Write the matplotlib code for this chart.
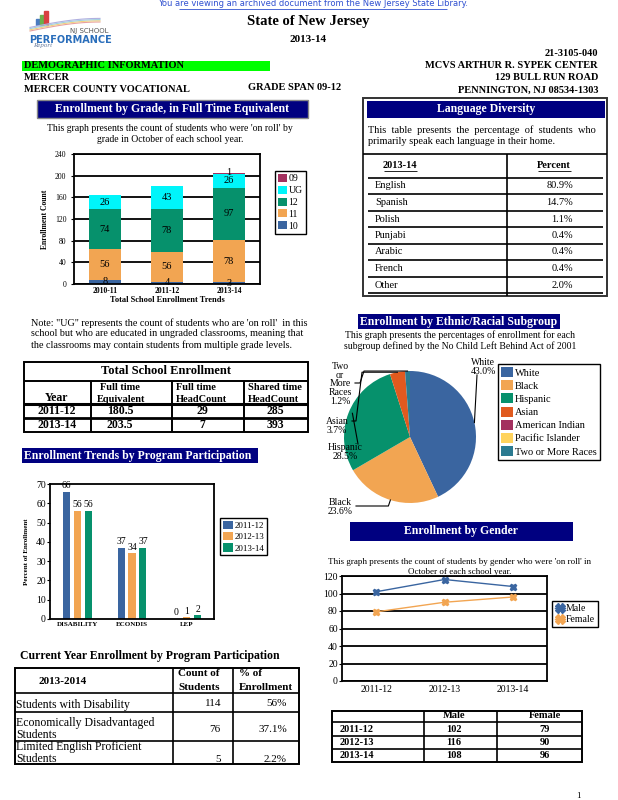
import numpy as np
import matplotlib
matplotlib.use("Agg")
import matplotlib.pyplot as plt
from matplotlib.patches import Rectangle

plt.rcParams['font.family'] = ['Liberation Serif', 'DejaVu Serif']

W, H = 618, 800

# ---- data ----
grade_years = ['2010-11', '2011-12', '2013-14']
grade_10 = [8, 4, 3]
grade_11 = [56, 56, 78]
grade_12 = [74, 78, 97]
grade_ug = [26, 43, 26]
grade_09 = [0, 0, 1]

lang_names = ['English', 'Spanish', 'Polish', 'Punjabi', 'Arabic', 'French', 'Other']
lang_pct = ['80.9%', '14.7%', '1.1%', '0.4%', '0.4%', '0.4%', '2.0%']

total_years = ['2011-12', '2013-14']
total_fte = ['180.5', '203.5']
total_ft_head = ['29', '7']
total_shared = ['285', '393']

prog_groups = ['DISABILITY', 'ECONDIS', 'LEP']
prog_years = ['2011-12', '2012-13', '2013-14']
prog_1112 = [66, 37, 0]
prog_1213 = [56, 34, 1]
prog_1314 = [56, 37, 2]

eth_names = ['White', 'Black', 'Hispanic', 'Asian', 'American Indian',
             'Pacific Islander', 'Two or More Races']
eth_pct = [43.0, 23.6, 28.5, 3.7, 0.0, 0.0, 1.2]

gender_years = ['2011-12', '2012-13', '2013-14']
male = [102, 116, 108]
female = [79, 90, 96]

cur_programs = ['Students with Disability', 'Economically Disadvantaged\nStudents',
                'Limited English Proficient\nStudents']
cur_counts = ['114', '76', '5']
cur_pct = ['56%', '37.1%', '2.2%']

BLUE = '#3A65A0'
ORANGE = '#F2A552'
GREEN = '#06916C'
CYAN = '#00F5FA'
MAROON = '#A3305F'
RED = '#E05A1E'
YELLOW = '#FFD35C'
TEAL = '#2B7A90'
NAVY = '#000080'

fig = plt.figure(figsize=(W / 100, H / 100), dpi=100)
fig.patch.set_facecolor('white')

page = fig.add_axes([0, 0, 1, 1])
page.set_xlim(0, W)
page.set_ylim(H, 0)
page.axis('off')
page.set_zorder(10)
page.patch.set_visible(False)


def box(x0, y0, x1, y1, fc='none', ec='black', lw=1.0):
    page.add_patch(Rectangle((x0, y0), x1 - x0, y1 - y0, facecolor=fc,
                             edgecolor=ec, linewidth=lw))


def txt(x, y, s, size=8, ha='left', va='center', bold=False, color='black', **kw):
    page.text(x, y, s, fontsize=size, ha=ha, va=va, color=color,
              fontweight='bold' if bold else 'normal', **kw)


def hl(y, x0, x1, lw=1.0, color='black'):
    page.plot([x0, x1], [y, y], color=color, lw=lw, solid_capstyle='butt')


def vl(x, y0, y1, lw=1.0, color='black'):
    page.plot([x, x], [y0, y1], color=color, lw=lw, solid_capstyle='butt')


def add_ax(x0, y0, x1, y1):
    return fig.add_axes([x0 / W, 1 - y1 / H, (x1 - x0) / W, (y1 - y0) / H])


def legend(handles, labels, x, y, size=7, **kw):
    opts = dict(frameon=True, fancybox=False, framealpha=1, edgecolor='black',
                borderpad=0.3, labelspacing=0.25, handletextpad=0.2, borderaxespad=0)
    opts.update(kw)
    lg = fig.legend(handles, labels, loc='upper left',
                    bbox_to_anchor=(x / W, 1 - y / H), fontsize=size, **opts)
    lg.get_frame().set_linewidth(1.0)
    return lg


# ---- header ----
txt(313, 4, 'You are viewing an archived document from the New Jersey State Library.',
    size=6, ha='center', color='#3050D0', family='DejaVu Sans')
hl(9, 179, 447, lw=0.6, color='#3050D0')

# logo
for i, c in enumerate(['#4A7AC0', '#6AB04A', '#D84040']):
    page.add_patch(Rectangle((36 + i * 4, 25 - (6 + i * 4)), 4, 6 + i * 4, color=c))
xs = np.linspace(30, 100, 30)
for k, c in enumerate(['#E8A0A0', '#F0D080', '#A0D0E0', '#B0B0E0']):
    page.plot(xs, 31 - k * 1.2 - 9 * np.sin((xs - 30) / 70 * np.pi / 2), color=c, lw=0.8)
txt(70, 31, 'NJ SCHOOL', size=5, color='#555555', family='DejaVu Sans')
txt(29, 40, 'PERFORMANCE', size=7, bold=True, color='#2A6EBB', family='DejaVu Sans')
txt(33, 46, 'Report', size=5, color='#6A7EA0', style='italic')

txt(308, 22, 'State of New Jersey', size=10.5, ha='center', bold=True)
txt(308, 40, '2013-14', size=8, ha='center', bold=True)
txt(598, 54, '21-3105-040', size=7.5, ha='right', bold=True)
box(22, 61, 270, 71, fc='#00FF00', ec='none')
txt(24, 66, 'DEMOGRAPHIC INFORMATION', size=7.5, bold=True)
txt(598, 66, 'MCVS ARTHUR R. SYPEK CENTER', size=7.5, ha='right', bold=True)
txt(24, 78, 'MERCER', size=7.5, bold=True)
txt(598, 78, '129 BULL RUN ROAD', size=7.5, ha='right', bold=True)
txt(24, 90, 'MERCER COUNTY VOCATIONAL', size=7.5, bold=True)
txt(248, 88, 'GRADE SPAN 09-12', size=7.5, bold=True)
txt(598, 90, 'PENNINGTON, NJ 08534-1303', size=7.5, ha='right', bold=True)

# ---- enrollment by grade ----
box(37, 100, 308, 118, fc=NAVY, ec='#888888')
txt(172, 109, 'Enrollment by Grade, in Full Time Equivalent', size=8.5, ha='center',
    bold=True, color='white')
txt(170, 128, "This graph presents the count of students who were 'on roll' by", size=7,
    ha='center')
txt(170, 139, 'grade in October of each school year.', size=7, ha='center')

ax = add_ax(74, 154, 260, 284)
x = np.arange(len(grade_years))
bottom = np.zeros(len(x))
handles = []
for vals, col, name in [(grade_10, BLUE, '10'), (grade_11, ORANGE, '11'),
                        (grade_12, GREEN, '12'), (grade_ug, CYAN, 'UG'),
                        (grade_09, MAROON, '09')]:
    bars = ax.bar(x, vals, 0.52, bottom=bottom, color=col, zorder=2, label=name)
    for xi, v, b in zip(x, vals, bottom):
        if v > 0:
            yl = b + v / 2 if v > 2 else b + v + 1.5
            ax.text(xi, yl, str(v), ha='center', va='center', fontsize=7.5, zorder=3)
    bottom = bottom + np.array(vals)
    handles.append(bars)
ax.set_ylim(0, 240)
ax.set_xlim(-0.5, 2.5)
ax.set_yticks(range(0, 241, 40))
ax.yaxis.grid(True, color='black', lw=1.3, zorder=1)
ax.set_axisbelow(True)
ax.set_xticks(x)
ax.set_xticklabels(grade_years, fontsize=5.5, fontweight='bold')
ax.tick_params(axis='y', labelsize=5.5, length=2, width=0.8)
ax.tick_params(axis='x', length=0, pad=2)
for s in ax.spines.values():
    s.set_linewidth(1.3)
ax.set_ylabel('Enrollment Count', fontsize=5.5, fontweight='bold', labelpad=4)
txt(167, 300, 'Total School Enrollment Trends', size=6, ha='center', bold=True)
legend(handles[::-1], ['10', '11', '12', 'UG', '09'][::-1], 275, 171, size=7,
       handlelength=0.9, handleheight=0.9)

# note
txt(31, 323, 'Note: "UG" represents the count of students who are \'on roll\'  in this',
    size=7.3)
txt(31, 334, 'school but who are educated in ungraded classrooms, meaning that', size=7.3)
txt(31, 345, 'the classrooms may contain students from multiple grade levels.', size=7.3)

# total school enrollment table
box(24, 362, 308, 432, lw=1.4)
hl(381, 24, 308, lw=1.4)
hl(404, 24, 308, lw=2.2)
hl(418, 24, 308, lw=2.0)
for xv in [91, 172, 244]:
    vl(xv, 381, 432, lw=1.4)
txt(166, 371, 'Total School Enrollment', size=9, ha='center', bold=True)
txt(57, 398, 'Year', size=8.5, ha='center', bold=True)
txt(100, 388, 'Full time', size=7.5, bold=True)
txt(97, 400, 'Equivalent', size=7.5, bold=True)
txt(176, 388, 'Full time', size=7.5, bold=True)
txt(176, 400, 'HeadCount', size=7.5, bold=True)
txt(248, 388, 'Shared time', size=7.5, bold=True)
txt(248, 400, 'HeadCount', size=7.5, bold=True)
for i, (yr, a, b, c) in enumerate(zip(total_years, total_fte, total_ft_head, total_shared)):
    yy = 411 + i * 14
    txt(57, yy, yr, size=8.5, ha='center', bold=True)
    txt(120, yy, a, size=8.5, ha='center', bold=True)
    txt(202, yy, b, size=8.5, ha='center', bold=True)
    txt(275, yy, c, size=8.5, ha='center', bold=True)

# ---- program participation trends ----
box(22, 448, 258, 463, fc=NAVY, ec='none')
txt(24, 456, 'Enrollment Trends by Program Participation', size=8.5, bold=True,
    color='white')

ax = add_ax(50, 484, 214, 619)
x = np.arange(len(prog_groups))
handles = []
for off, vals, col in [(-0.2, prog_1112, BLUE), (0, prog_1213, ORANGE), (0.2, prog_1314, GREEN)]:
    b = ax.bar(x + off, vals, 0.13, color=col)
    handles.append(b)
    for xi, v in zip(x + off, vals):
        ax.text(xi, v + 0.8, str(v), ha='center', va='bottom', fontsize=7)
ax.set_xlim(-0.5, 2.5)
ax.set_ylim(0, 70)
ax.set_yticks(range(0, 71, 10))
ax.set_xticks(x)
ax.set_xticklabels(prog_groups, fontsize=5, fontweight='bold')
ax.tick_params(axis='y', labelsize=7, length=2, width=0.8, pad=1)
ax.tick_params(axis='x', length=0, pad=2)
for s in ax.spines.values():
    s.set_linewidth(1.3)
ax.set_ylabel('Percent of Enrollment', fontsize=5, fontweight='bold', labelpad=5)
legend(handles, prog_years, 220, 518, size=6.5, handlelength=1.1, handleheight=1.0)

# current year table
txt(20, 656, 'Current Year Enrollment by Program Participation', size=8.5, bold=True)
box(15, 668, 299, 764, lw=1.4)
for yv in [693, 712, 741]:
    hl(yv, 15, 299, lw=1.2)
for xv in [173, 233]:
    vl(xv, 668, 764, lw=1.2)
txt(63, 682, '2013-2014', size=8, ha='center', bold=True)
txt(199, 674, 'Count of', size=8, ha='center', bold=True)
txt(199, 687, 'Students', size=8, ha='center', bold=True)
txt(239, 674, '% of', size=8, bold=True)
txt(239, 687, 'Enrollment', size=8, bold=True)
txt(16, 705, cur_programs[0], size=8.5)
txt(16, 729, cur_programs[1], size=8.5, linespacing=1.05)
txt(16, 753, cur_programs[2], size=8.5, linespacing=1.05)
for yy, c, p in zip([704, 729, 760], cur_counts, cur_pct):
    txt(221, yy, c, size=8, ha='right')
    txt(287, yy, p, size=8, ha='right')

# ---- language diversity ----
box(363, 98, 607, 296, lw=1.4, ec='#333333')
box(367, 101, 605, 118, fc=NAVY, ec='none')
txt(486, 109, 'Language Diversity', size=8.5, ha='center', bold=True, color='white')
txt(368, 130, 'This  table  presents  the  percentage  of  students  who', size=7.5)
txt(368, 142, 'primarily speak each language in their home.', size=7.5)
hl(154, 363, 607, lw=1.2)
vl(507, 154, 296, lw=1.2)
txt(400, 166, '2013-14', size=7.5, ha='center', bold=True)
hl(171, 384, 417, lw=0.6)
txt(554, 166, 'Percent', size=7.5, ha='center', bold=True)
hl(171, 538, 571, lw=0.6)
hl(178, 368, 603, lw=1.2)
for i, (nm, pc) in enumerate(zip(lang_names, lang_pct)):
    yy = 186 + i * 16.5
    txt(375, yy, nm, size=7.5)
    txt(573, yy, pc, size=7.5, ha='right')
    hl(yy + 8.2, 368, 603, lw=1.2)

# ---- ethnic pie ----
box(358, 314, 560, 329, fc=NAVY, ec='none')
txt(459, 322, 'Enrollment by Ethnic/Racial Subgroup', size=8.5, ha='center', bold=True,
    color='white')
txt(460, 335, 'This graph presents the percentages of enrollment for each', size=7,
    ha='center')
txt(460, 346, 'subgroup defined by the No Child Left Behind Act of 2001', size=7,
    ha='center')

cx, cy, r = 410, 437, 66
pax = add_ax(cx - r, cy - r, cx + r, cy + r)
eth_colors = [BLUE, ORANGE, GREEN, RED, MAROON, YELLOW, TEAL]
wedges, _ = pax.pie(eth_pct, colors=eth_colors, startangle=90, counterclock=False,
                    radius=1, wedgeprops=dict(linewidth=0))
pax.set_xlim(-1, 1)
pax.set_ylim(-1, 1)
pax.set_aspect('auto')

cum = np.cumsum([0] + eth_pct)
mid = 90 - (cum[:-1] + np.array(eth_pct) / 2) / 100 * 360
edge = [(cx + r * np.cos(np.radians(a)), cy - r * np.sin(np.radians(a))) for a in mid]

txt(483, 367, 'White\n43.0%', size=7, ha='center', linespacing=1.0)
page.plot([477, edge[0][0]], [375, edge[0][1]], color='black', lw=0.8)
txt(340, 507, 'Black\n23.6%', size=7, ha='center', linespacing=1.0)
page.plot([356, edge[1][0] - 2, edge[1][0]], [506, 506, edge[1][1]], color='black', lw=0.8)
txt(340, 384, 'Two\nor\nMore\nRaces\n1.2%', size=7, ha='center', linespacing=0.95)
page.plot([355, 360, 364, edge[6][0]], [383, 383, edge[6][1], edge[6][1]],
          color='black', lw=0.8)
txt(337, 426, 'Asian\n3.7%', size=7, ha='center', linespacing=1.0)
page.plot([352, 356, 362, edge[3][0]], [421, 421, edge[3][1], edge[3][1]],
          color='black', lw=0.8)
txt(345, 452, 'Hispanic\n28.5%', size=7, ha='center', linespacing=1.0)
page.plot([358, edge[2][0] + 4], [444, edge[2][1]], color='black', lw=0.8)

legend(wedges, eth_names, 498, 364, size=7.5, handlelength=1.1, handleheight=1.1,
       labelspacing=0.25)

# ---- gender ----
box(350, 522, 573, 541, fc=NAVY, ec='none')
txt(461, 531, 'Enrollment by Gender', size=8.5, ha='center', bold=True, color='white')
txt(460, 562, "This graph presents the count of students by gender who were 'on roll' in",
    size=6.5, ha='center')
txt(460, 572, 'October of each school year.', size=6.5, ha='center')

ax = add_ax(342, 576, 547, 681)
x = np.arange(len(gender_years))
l1, = ax.plot(x, male, color=BLUE, lw=1, marker='X', ms=5)
l2, = ax.plot(x, female, color=ORANGE, lw=1, marker='X', ms=5)
ax.set_xlim(-0.5, 2.5)
ax.set_ylim(0, 120)
ax.set_yticks(range(0, 121, 20))
ax.yaxis.grid(True, color='black', lw=1.3)
ax.set_axisbelow(True)
ax.set_xticks(x)
ax.set_xticklabels(gender_years, fontsize=7)
ax.tick_params(axis='y', labelsize=7, length=2, width=0.8, pad=1)
ax.tick_params(axis='x', length=0, pad=3)
for s in ax.spines.values():
    s.set_linewidth(1.3)
legend([l1, l2], ['Male', 'Female'], 552, 601, size=7, handlelength=1.0,
       handletextpad=0.1, markerscale=1.4)

# gender table
box(332, 711, 582, 762, lw=1.4)
for yv in [722, 736, 749]:
    hl(yv, 332, 582, lw=1.2)
for xv in [424, 497]:
    vl(xv, 711, 762, lw=1.2)
txt(454, 716, 'Male', size=7.5, ha='center', bold=True)
txt(545, 716, 'Female', size=7.5, ha='center', bold=True)
for i, (yr, m, f) in enumerate(zip(gender_years, male, female)):
    yy = 729 + i * 13.5
    txt(340, yy, yr, size=7.5, bold=True)
    txt(454, yy, str(m), size=7.5, ha='center', bold=True)
    txt(545, yy, str(f), size=7.5, ha='center', bold=True)

txt(578, 796, '1', size=6.5, ha='center')

fig.savefig('out.png', dpi=100)
